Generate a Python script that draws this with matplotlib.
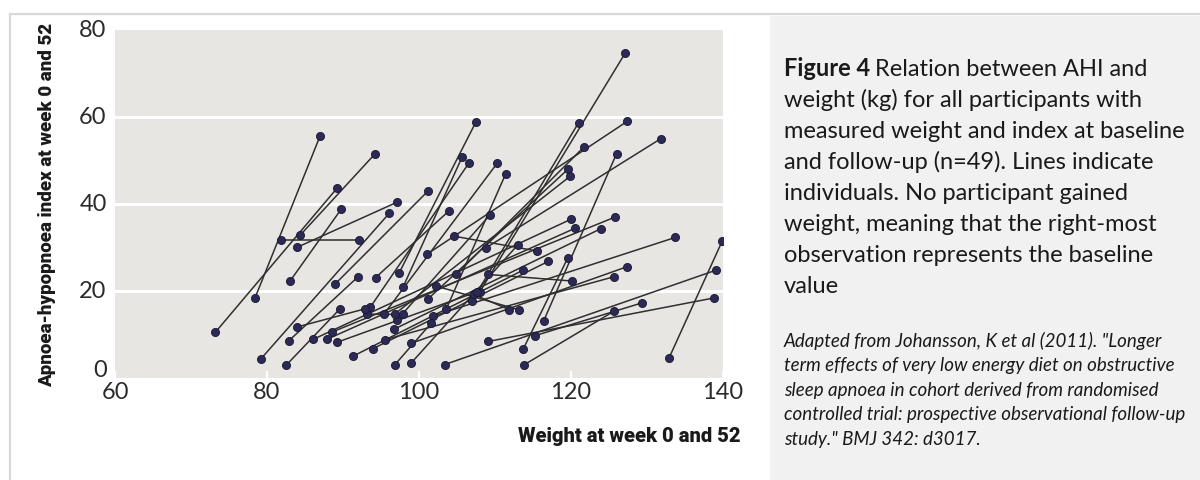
import matplotlib.pyplot as plt
from matplotlib.patches import Rectangle
from matplotlib.lines import Line2D
from matplotlib.transforms import ScaledTranslation

# one row per participant: weight/AHI at week 52 (left end) and at baseline (right end)
weight_52 = [73.2, 78.4, 81.9, 84.4, 83.0, 83.9, 79.2, 82.9, 82.5, 83.9,
             88.9, 97.4, 97.9, 108.0, 107.0, 101.0, 108.8, 104.9, 116.4, 103.6,
             132.9, 109.1, 113.7, 101.8, 109.1, 102.3, 107.2, 104.6, 103.4, 115.2,
             113.8, 94.3, 97.1, 95.4, 93.6, 101.2, 96.8, 86.1, 87.9, 96.7,
             88.6, 99.0, 95.5, 93.9, 91.3, 99.0, 93.1, 96.8, 89.2]
ahi_52 = [10.5, 18.3, 31.8, 32.9, 22.2, 30.0, 4.4, 8.6, 2.9, 11.7,
          21.5, 24.2, 20.9, 19.8, 17.8, 28.4, 29.9, 23.8, 13.1, 15.9,
          4.6, 8.4, 6.6, 14.2, 23.8, 21.1, 19.2, 32.6, 3.1, 9.7,
          3.0, 23.1, 13.3, 14.7, 16.3, 18.2, 14.7, 8.9, 8.9, 11.2,
          10.6, 8.0, 8.8, 6.7, 5.0, 3.5, 14.7, 3.0, 8.2]
weight_0 = [89.2, 87.0, 92.1, 94.2, 89.8, 97.1, 96.1, 92.0, 89.6, 92.9,
            101.2, 107.5, 105.7, 127.1, 121.0, 127.4, 131.8, 121.7, 126.0, 111.4,
            139.9, 138.8, 119.6, 133.7, 120.1, 113.1, 111.9, 115.5, 139.1, 129.4,
            125.7, 104.0, 109.3, 110.3, 106.6, 119.6, 119.9, 120.0, 120.5, 123.9,
            125.8, 127.4, 125.7, 117.0, 113.7, 113.0, 97.9, 101.6, 107.6]
ahi_0 = [43.6, 55.7, 31.8, 51.5, 38.9, 40.4, 37.9, 23.3, 15.9, 15.9,
         43.0, 58.9, 50.9, 74.6, 58.7, 59.0, 55.0, 53.1, 51.6, 46.9,
         31.5, 18.4, 27.7, 32.3, 22.3, 15.7, 15.7, 29.2, 24.8, 17.3,
         15.4, 38.5, 37.4, 49.4, 49.5, 48.0, 46.4, 36.5, 34.4, 34.3,
         37.0, 25.6, 23.3, 26.8, 24.8, 30.6, 14.6, 12.6, 19.8]

x_ticks = [60, 80, 100, 120, 140]
y_ticks = [0, 20, 40, 60, 80]

W, H = 1200, 481
fig = plt.figure(figsize=(W / 100, H / 100), dpi=100)
fig.patch.set_facecolor('white')

# thin grey frame along the top and left, grey caption box on the right
fig.add_artist(Line2D([10 / W, 1], [1 - 15 / H, 1 - 15 / H], color='#d9d9d9', lw=1.6))
fig.add_artist(Line2D([10 / W, 10 / W], [0, 1 - 15 / H], color='#d9d9d9', lw=1.6))
fig.add_artist(Rectangle((770 / W, 0), 430 / W, 1 - 17 / H, transform=fig.transFigure,
                         facecolor='#f1f1f1', edgecolor='none'))

ax = fig.add_axes([115 / W, 1 - 379 / H, 608 / W, 348 / H])
ax.set_facecolor('#e8e6e3')
ax.set_xlim(60, 140)
ax.set_ylim(0, 80)
for s in ax.spines.values():
    s.set_visible(False)

for g in [20, 40, 60]:
    ax.axhline(g, color='white', lw=2.2, zorder=1)

for x0, y0, x1, y1 in zip(weight_52, ahi_52, weight_0, ahi_0):
    ax.plot([x0, x1], [y0, y1], color='#2f2f2f', lw=1.1, zorder=2)
ax.scatter(weight_52 + weight_0, ahi_52 + ahi_0, s=34, color='#2c2a55',
           edgecolors='#17162e', linewidths=0.6, zorder=3)

tick_font = dict(family='Lato', size=17, color='#2b2b2b')
ax.set_xticks(x_ticks)
ax.set_xticklabels([str(v) for v in x_ticks], **tick_font)
ax.set_yticks(y_ticks)
ax.set_yticklabels([str(v) for v in y_ticks], **tick_font)
ax.tick_params(axis='x', direction='in', length=5, width=1.5, color='white', pad=2)
ax.tick_params(axis='y', length=0, pad=6)
for lbl in ax.get_yticklabels():
    lbl.set_verticalalignment('center')
# lift the "0" so it clears the "60" underneath
zero = ax.get_yticklabels()[0]
zero.set_transform(zero.get_transform() + ScaledTranslation(0, 6 / 72, fig.dpi_scale_trans))

fig.text(47 / W, 1 - 205 / H, 'Apnoea-hypopnoea index at week 0 and 52', rotation=90,
         ha='center', va='center', family='Roboto', weight='heavy', size=13.5,
         color='#1a1a1a')
fig.text(740 / W, 1 - 437 / H, 'Weight at week 0 and 52', ha='right', va='center',
         family='Roboto', weight='heavy', size=14.5, color='#1a1a1a')

# caption
cap_x = 784
cap_lines = ['Relation between AHI and',
             'weight (kg) for all participants with',
             'measured weight and index at baseline',
             'and follow-up (n=49). Lines indicate',
             'individuals. No participant gained',
             'weight, meaning that the right-most',
             'observation represents the baseline',
             'value']
cap_font = dict(family='Lato', size=17, color='#1a1a1a', va='baseline')
fig.canvas.draw()
renderer = fig.canvas.get_renderer()
first = fig.text(cap_x / W, 1 - 76 / H, 'Figure 4', weight='bold', **cap_font)
bb = first.get_window_extent(renderer)
fig.text((bb.x1 + 5) / W, 1 - 76 / H, cap_lines[0], **cap_font)
for i, line in enumerate(cap_lines[1:], start=1):
    fig.text(cap_x / W, 1 - (76 + 31 * i) / H, line, **cap_font)

src_lines = ['Adapted from Johansson, K et al (2011). "Longer',
             'term effects of very low energy diet on obstructive',
             'sleep apnoea in cohort derived from randomised',
             'controlled trial: prospective observational follow-up',
             'study." BMJ 342: d3017.']
for i, line in enumerate(src_lines):
    fig.text(cap_x / W, 1 - (347 + 24.5 * i) / H, line, family='Lato', style='italic',
             size=13.5, color='#1a1a1a', va='baseline')

fig.savefig('out.png', dpi=100)
